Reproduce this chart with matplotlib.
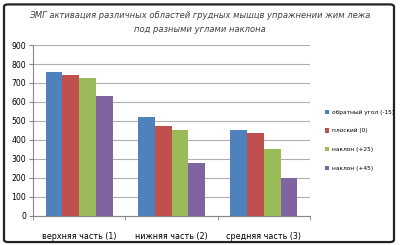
import numpy as np
import matplotlib
matplotlib.use('Agg')
import matplotlib.pyplot as plt
from matplotlib.patches import FancyBboxPatch

# data
categories = ['верхняя часть (1)', 'нижняя часть (2)', 'средняя часть (3)']
series_names = ['обратный угол (-15)', 'плоский (0)', 'наклон (+25)', 'наклон (+45)']
reverse_15 = [760, 520, 450]
flat_0 = [740, 475, 435]
incline_25 = [725, 450, 350]
incline_45 = [630, 280, 200]
colors = ['#4F81BD', '#C0504D', '#9BBB59', '#8064A2']

title = 'ЭМГ активация различных областей грудных мышцв упражнении жим лежа\nпод разными углами наклона'

fig = plt.figure(figsize=(4, 2.45), dpi=100)
ax = fig.add_axes([0.0825, 0.12, 0.6925, 0.696])

x = np.arange(len(categories))
w = 0.182
values = [reverse_15, flat_0, incline_25, incline_45]
for i, (vals, name, c) in enumerate(zip(values, series_names, colors)):
    ax.bar(x + (i - 1.5) * w, vals, w, color=c, label=name, zorder=3)

ax.set_xlim(-0.5, 2.5)
ax.set_ylim(0, 900)
ax.set_yticks(range(0, 901, 100))
ax.yaxis.grid(True, color='#b0b0b0', linewidth=0.8, zorder=0)
ax.tick_params(axis='y', labelsize=5.6, length=3, color='#888888', pad=2)

# category labels + boundary ticks
ax.set_xticks(x)
ax.set_xticklabels(categories, fontsize=5.8)
ax.tick_params(axis='x', length=0, pad=12)
ax.set_xticks([-0.5, 0.5, 1.5, 2.5], minor=True)
ax.tick_params(axis='x', which='minor', length=3, color='#888888')

for s in ['top', 'right']:
    ax.spines[s].set_visible(False)
ax.spines['left'].set_color('#888888')
ax.spines['bottom'].set_color('#888888')

leg = fig.legend(loc='upper left', bbox_to_anchor=(0.812, 0.553), frameon=False,
                 fontsize=4.2, handlelength=0.8, handleheight=0.8,
                 labelspacing=2.3, handletextpad=0.4, borderpad=0, borderaxespad=0)

fig.text(0.5, 0.955, title, ha='center', va='top', fontsize=6.0, style='italic',
         color='#404040', linespacing=1.75)

# outer frame
frame = FancyBboxPatch((0.01, 0.012), 0.975, 0.97, boxstyle='round,pad=0,rounding_size=0.01',
                       transform=fig.transFigure, fill=False, edgecolor='#222222', linewidth=1.6)
fig.patches.append(frame)

fig.savefig('out.png', dpi=100)
